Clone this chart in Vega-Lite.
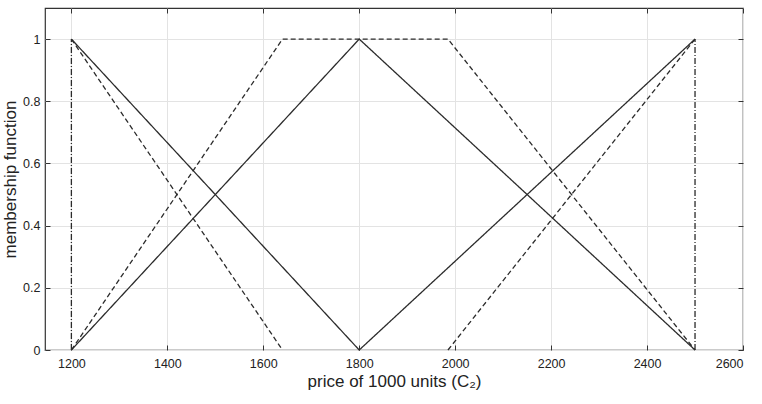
{
  "$schema": "https://vega.github.io/schema/vega-lite/v6.json",
  "width": 698,
  "height": 342,
  "autosize": {"type": "none"},
  "padding": {"left": 45, "top": 8, "right": 19, "bottom": 54},
  "background": "white",
  "config": {
    "font": "Liberation Sans",
    "view": {"stroke": "#333333", "strokeWidth": 1.2},
    "axis": {"domain": false, "labelColor": "#222222", "titleColor": "#222222", "titleFontWeight": "normal"}
  },
  "data": {"values": [
    {"s": "a", "style": "solid", "x": 1200, "y": 1},
    {"s": "a", "style": "solid", "x": 1800, "y": 0},
    {"s": "a", "style": "solid", "x": 2500, "y": 1},
    {"s": "b", "style": "solid", "x": 1200, "y": 0},
    {"s": "b", "style": "solid", "x": 1800, "y": 1},
    {"s": "b", "style": "solid", "x": 2500, "y": 0},
    {"s": "c", "style": "dashed", "x": 1200, "y": 1},
    {"s": "c", "style": "dashed", "x": 1640, "y": 0},
    {"s": "d", "style": "dashed", "x": 1200, "y": 0},
    {"s": "d", "style": "dashed", "x": 1640, "y": 1},
    {"s": "d", "style": "dashed", "x": 1985, "y": 1},
    {"s": "d", "style": "dashed", "x": 2500, "y": 0},
    {"s": "e", "style": "dashed", "x": 1985, "y": 0},
    {"s": "e", "style": "dashed", "x": 2500, "y": 1},
    {"s": "f", "style": "dashdot", "x": 1200, "y": 0},
    {"s": "f", "style": "dashdot", "x": 1200, "y": 1},
    {"s": "g", "style": "dashdot", "x": 2500, "y": 0},
    {"s": "g", "style": "dashdot", "x": 2500, "y": 1}
  ]},
  "layer": [
    {
      "mark": {"type": "line", "color": "#2b2b2b", "strokeWidth": 1.3},
      "encoding": {
        "x": {"field": "x", "type": "quantitative", "scale": {"domain": [1145, 2600], "nice": false, "zero": false},
          "axis": {"orient": "bottom", "values": [1200, 1400, 1600, 1800, 2000, 2200, 2400, 2600], "format": "d", "grid": true, "gridColor": "#e3e3e3", "tickSize": -5, "tickColor": "#333333", "labelPadding": 12, "labelFontSize": 12.5, "title": "price of 1000 units (C₂)", "titleFontSize": 17, "titlePadding": 4}},
        "y": {"field": "y", "type": "quantitative", "scale": {"domain": [0, 1.1], "nice": false},
          "axis": {"orient": "left", "values": [0, 0.2, 0.4, 0.6, 0.8, 1], "format": "~g", "grid": true, "gridColor": "#e3e3e3", "tickSize": -5, "tickColor": "#333333", "labelPadding": 10, "labelFontSize": 12.5, "title": "membership function", "titleFontSize": 17, "titlePadding": 3}},
        "detail": {"field": "s"},
        "strokeDash": {"field": "style", "type": "nominal", "scale": {"domain": ["solid", "dashed", "dashdot"], "range": [[1, 0], [5, 3], [6, 2, 1, 2]]}, "legend": null},
        "strokeWidth": {"field": "style", "type": "nominal", "scale": {"domain": ["solid", "dashed", "dashdot"], "range": [1.3, 1.5, 0.8]}, "legend": null}
      }
    },
    {
      "mark": {"type": "line", "opacity": 0},
      "encoding": {
        "x": {"field": "x", "type": "quantitative", "scale": {"domain": [1145, 2600], "nice": false, "zero": false},
          "axis": {"orient": "top", "values": [1200, 1400, 1600, 1800, 2000, 2200, 2400, 2600], "labels": false, "grid": false, "tickSize": -5, "tickColor": "#333333", "title": null}},
        "y": {"field": "y", "type": "quantitative", "scale": {"domain": [0, 1.1], "nice": false},
          "axis": {"orient": "right", "values": [0, 0.2, 0.4, 0.6, 0.8, 1], "labels": false, "grid": false, "tickSize": -5, "tickColor": "#333333", "title": null}},
        "detail": {"field": "s"}
      }
    }
  ],
  "resolve": {"axis": {"x": "independent", "y": "independent"}}
}
